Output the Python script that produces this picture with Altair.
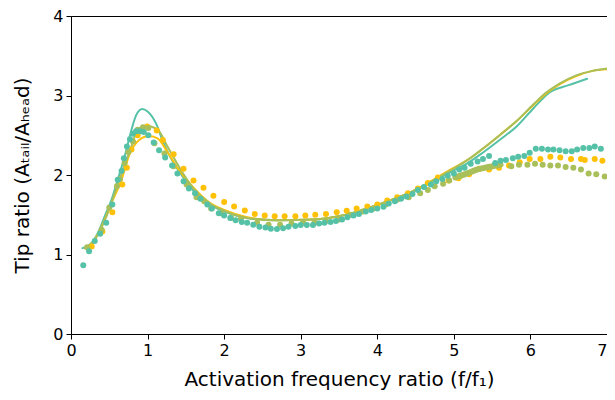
import altair as alt
import pandas as pd

TEAL = "#55c1a7"
YELLOW = "#ffc107"
OLIVE = "#a8bf5a"

# ---- dots ----
teal_dot_x = [0.16, 0.236, 0.31, 0.38, 0.46, 0.54, 0.61, 0.66, 0.69, 0.73, 0.77, 0.81, 0.85, 0.90, 0.95,
              1.01, 1.08, 1.15, 1.23, 1.32, 1.39, 1.47, 1.54, 1.62, 1.69, 1.78, 1.84, 1.93, 2.00, 2.08,
              2.15, 2.23, 2.30, 2.38, 2.46, 2.54, 2.61, 2.69, 2.77, 2.84, 2.93, 3.00, 3.08, 3.16, 3.24,
              3.31, 3.39, 3.46, 3.54, 3.61, 3.69, 3.76, 3.85, 3.92, 4.00, 4.08, 4.15, 4.23, 4.31, 4.38,
              4.46, 4.53, 4.61, 4.70, 4.77, 4.85, 4.92, 5.00, 5.07, 5.14, 5.22, 5.31, 5.38, 5.46, 5.54,
              5.61, 5.68, 5.77, 5.84, 5.92, 5.99, 6.07, 6.15, 6.23, 6.30, 6.38, 6.46, 6.54, 6.61, 6.69,
              6.77, 6.84, 6.92]
teal_dot_y = [0.865, 1.04, 1.17, 1.26, 1.40, 1.63, 1.94, 2.05, 2.21, 2.36, 2.45, 2.52, 2.55, 2.55, 2.54,
              2.50, 2.41, 2.31, 2.22, 2.12, 2.02, 1.92, 1.83, 1.77, 1.70, 1.63, 1.58, 1.52, 1.49, 1.46,
              1.43, 1.41, 1.40, 1.375, 1.35, 1.34, 1.325, 1.32, 1.33, 1.35, 1.36, 1.37, 1.37, 1.37, 1.39,
              1.40, 1.41, 1.42, 1.44, 1.47, 1.49, 1.51, 1.54, 1.56, 1.58, 1.60, 1.64, 1.67, 1.70, 1.73,
              1.76, 1.81, 1.85, 1.88, 1.92, 1.95, 1.99, 2.02, 2.07, 2.09, 2.14, 2.17, 2.20, 2.24, 2.15,
              2.18, 2.19, 2.21, 2.23, 2.24, 2.28, 2.33, 2.33, 2.32, 2.32, 2.31, 2.30, 2.30, 2.32, 2.34,
              2.34, 2.36, 2.33]

yellow_dot_x = [0.27, 0.41, 0.54, 0.67, 0.73, 0.79, 0.87, 0.995, 1.12, 1.20, 1.34, 1.47, 1.60, 1.73, 1.86,
                2.00, 2.13, 2.27, 2.40, 2.53, 2.66, 2.79, 2.93, 3.06, 3.19, 3.33, 3.47, 3.60, 3.73, 3.87,
                4.00, 4.13, 4.26, 4.40, 4.53, 4.66, 4.79, 4.93, 5.06, 5.20, 5.33, 5.46, 5.59, 5.72, 5.86,
                5.99, 6.13, 6.26, 6.39, 6.53, 6.66, 6.71, 6.84, 6.94]
yellow_dot_y = [1.10, 1.29, 1.53, 1.88, 2.09, 2.32, 2.50, 2.61, 2.56, 2.44, 2.26, 2.08, 1.93, 1.84, 1.74,
                1.66, 1.605, 1.555, 1.51, 1.49, 1.48, 1.48, 1.48, 1.49, 1.50, 1.51, 1.53, 1.55, 1.58, 1.605,
                1.63, 1.68, 1.72, 1.77, 1.83, 1.90, 1.97, 1.93, 1.96, 2.01, 2.08, 2.07, 2.09, 2.12, 2.16,
                2.20, 2.20, 2.23, 2.22, 2.20, 2.20, 2.19, 2.20, 2.18]

olive_dot_x = [0.21, 0.40, 0.50, 0.60, 0.64, 0.70, 0.75, 0.81, 0.87, 0.94, 1.01, 1.09, 1.22, 1.34, 1.51,
               1.64, 1.74, 1.83, 1.96, 2.09, 2.22, 2.43, 2.58, 2.73, 2.88, 3.03, 3.18, 3.33, 3.50, 3.65,
               3.81, 3.95, 4.11, 4.26, 4.41, 4.56, 4.66, 4.75, 4.86, 4.94, 5.75, 5.85, 5.96, 6.06, 6.16,
               6.26, 6.36, 6.46, 6.56, 6.66, 6.76, 6.86, 6.97]
olive_dot_y = [1.09, 1.31, 1.59, 1.86, 1.95, 2.15, 2.29, 2.42, 2.57, 2.60, 2.59, 2.40, 2.27, 2.11, 1.88,
               1.72, 1.67, 1.58, 1.52, 1.46, 1.45, 1.40, 1.375, 1.375, 1.39, 1.40, 1.40, 1.42, 1.44, 1.50,
               1.54, 1.58, 1.63, 1.69, 1.72, 1.77, 1.81, 1.86, 1.89, 1.93, 2.11, 2.13, 2.13, 2.14, 2.13,
               2.12, 2.12, 2.10, 2.09, 2.07, 2.02, 2.01, 1.98]

# thick olive run (densely packed points)
olive_run_x = [5.02, 5.15, 5.31, 5.45, 5.61]
olive_run_y = [1.97, 2.01, 2.07, 2.10, 2.13]

# ---- lines ----
teal_line_x = [0.15, 0.27, 0.36, 0.44, 0.53, 0.61, 0.70, 0.79, 0.85, 0.93, 1.00, 1.11, 1.21, 1.34, 1.43,
               1.60, 1.80, 2.00, 2.30, 2.70, 3.16, 3.59, 4.02, 4.45, 4.96, 5.18, 5.39, 5.61, 5.82, 6.04,
               6.25, 6.50, 6.74]
teal_line_y = [1.08, 1.145, 1.29, 1.48, 1.69, 1.94, 2.23, 2.57, 2.75, 2.83, 2.80, 2.65, 2.40, 2.15, 2.02,
               1.80, 1.64, 1.54, 1.46, 1.43, 1.44, 1.50, 1.63, 1.78, 2.04, 2.15, 2.29, 2.45, 2.61, 2.84,
               3.04, 3.13, 3.21]

yellow_line_x = [0.27, 0.40, 0.53, 0.66, 0.76, 0.89, 1.02, 1.13, 1.26, 1.39, 1.60, 1.80, 2.00, 2.30, 2.70,
                 3.16, 3.59, 4.02, 4.45, 4.96, 5.18, 5.39, 5.61, 5.82, 6.04, 6.21, 6.38, 6.59, 6.81, 7.00]
yellow_line_y = [1.12, 1.35, 1.65, 1.94, 2.25, 2.44, 2.49, 2.46, 2.29, 2.09, 1.84, 1.66, 1.56, 1.47, 1.43,
                 1.44, 1.50, 1.63, 1.79, 2.07, 2.19, 2.34, 2.51, 2.68, 2.88, 3.03, 3.14, 3.24, 3.31, 3.33]

olive_line_x = [0.18, 0.30, 0.45, 0.60, 0.70, 0.79, 0.87, 0.98, 1.13, 1.26, 1.40, 1.60, 1.80, 2.00, 2.30,
                2.70, 3.16, 3.59, 4.02, 4.45, 4.96, 5.18, 5.39, 5.61, 5.82, 6.04, 6.21, 6.38, 6.59, 6.81, 7.00]
olive_line_y = [1.08, 1.17, 1.45, 1.85, 2.12, 2.36, 2.57, 2.62, 2.57, 2.36, 2.12, 1.83, 1.65, 1.55, 1.46,
                1.43, 1.44, 1.50, 1.63, 1.79, 2.06, 2.19, 2.34, 2.51, 2.68, 2.89, 3.04, 3.15, 3.25, 3.31, 3.34]

x_ticks = [0, 1, 2, 3, 4, 5, 6, 7]
y_ticks = [0, 1, 2, 3, 4]

xs = alt.Scale(domain=[0, 7], nice=False, zero=False)
ys = alt.Scale(domain=[0, 4], nice=False, zero=False)

x_axis = alt.Axis(values=x_ticks, title="Activation frequency ratio (f/f₁)",
                  labelAlign={"condition": {"test": "datum.value == 7", "value": "right"}, "value": "center"},
                  titlePadding=11)
y_axis = alt.Axis(values=y_ticks, title="Tip ratio (Aₜₐᵢₗ/Aₕₑₐd)", titlePadding=20)


def line(xv, yv, color, width=2.0):
    df = pd.DataFrame({"x": xv, "y": yv, "o": range(len(xv))})
    return alt.Chart(df).mark_line(color=color, strokeWidth=width, interpolate="monotone",
                                   strokeCap="round").encode(
        x=alt.X("x:Q", scale=xs, axis=x_axis),
        y=alt.Y("y:Q", scale=ys, axis=y_axis),
        order="o:Q")


def dots(xv, yv, color):
    df = pd.DataFrame({"x": xv, "y": yv})
    return alt.Chart(df).mark_circle(color=color, size=36, opacity=1).encode(
        x=alt.X("x:Q", scale=xs, axis=x_axis),
        y=alt.Y("y:Q", scale=ys, axis=y_axis))


chart = alt.layer(
    line(teal_line_x, teal_line_y, TEAL),
    line(yellow_line_x, yellow_line_y, YELLOW),
    line(olive_line_x, olive_line_y, OLIVE),
    dots(yellow_dot_x, yellow_dot_y, YELLOW),
    dots(olive_dot_x, olive_dot_y, OLIVE),
    line(olive_run_x, olive_run_y, OLIVE, width=6),
    dots(teal_dot_x, teal_dot_y, TEAL),
).properties(
    width=536, height=318,
    autosize=alt.AutoSizeParams(type="none"),
    padding={"left": 63, "top": 8, "right": 0, "bottom": 58},
).configure_view(
    stroke="black", strokeWidth=1
).configure_axis(
    grid=False, domainColor="black", tickColor="black", labelColor="black", titleColor="black",
    labelFont="DejaVu Sans", titleFont="DejaVu Sans", labelFontSize=16, titleFontSize=20,
    titleFontWeight="normal", tickSize=5, labelPadding=3, domainWidth=1, tickWidth=1
)

chart.save("out.html", embed_options={"renderer": "svg", "actions": False})
